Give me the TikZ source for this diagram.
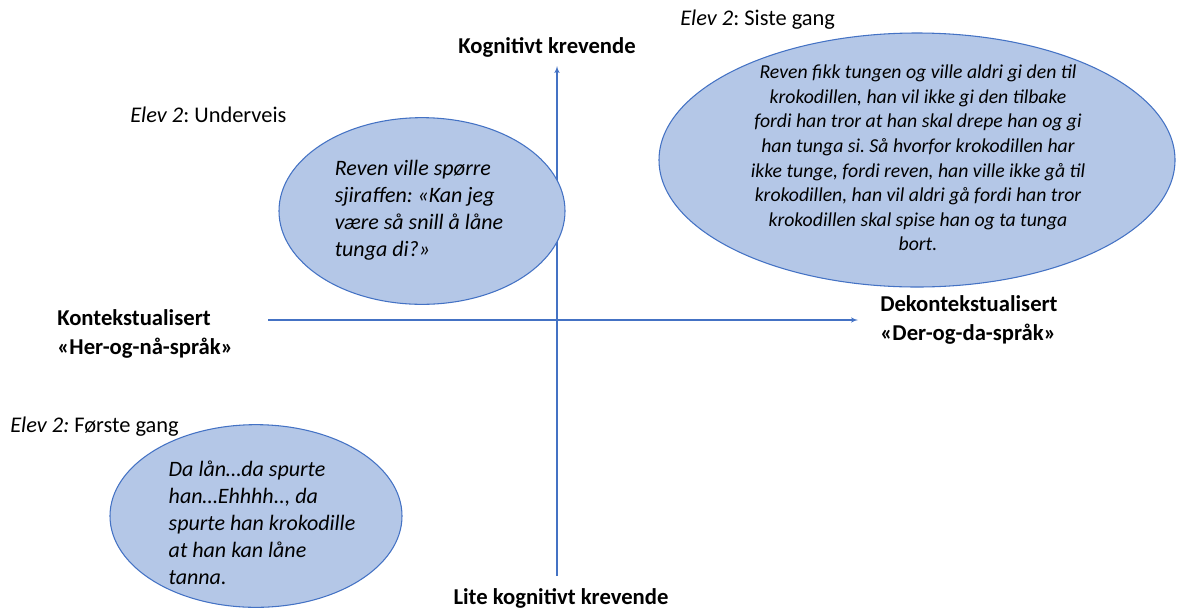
\documentclass[tikz,border=0pt]{standalone}
\usepackage{fontspec}
\setmainfont{Carlito}
\usepackage{tikz}
\usetikzlibrary{arrows,shapes.geometric,positioning}
\definecolor{aksefarge}{RGB}{68,114,196}
\definecolor{boblefyll}{RGB}{180,199,231}
\tikzstyle{axis} = [draw=aksefarge, line width=0.8pt, -latex']
\tikzstyle{axislabel} = [font=\fontsize{17}{21.5}\selectfont\bfseries, align=left, inner sep=0pt]
\tikzstyle{elev} = [font=\fontsize{16.8}{20}\selectfont, anchor=west, inner sep=0pt]
\tikzstyle{bubble} = [ellipse, draw=aksefarge, line width=0.8pt, fill=boblefyll, inner sep=0pt]
\tikzstyle{quote} = [font=\fontsize{16.5}{20.25}\selectfont\itshape, align=left, inner sep=0pt]
\tikzstyle{longquote} = [font=\fontsize{14.8}{18.4}\selectfont\itshape, align=center, inner sep=0pt]

\begin{document}
\frenchspacing
\begin{tikzpicture}[x=0.75pt, y=-0.75pt]
        \useasboundingbox (0,0) rectangle (1177,611);
        % Place axes
        \coordinate (left) at (268,320);
        \coordinate (right) at (858,320);
        \coordinate (bottom) at (557,576);
        \coordinate (top) at (557,66);
        \path [axis] (left) -- (right);
        \path [axis] (bottom) -- (top);
        % Axis labels
        \node [axislabel] (krevende) at (547,47) {Kognitivt krevende};
        \node [axislabel] (litekrevende) at (561,598) {Lite kognitivt krevende};
        \node [axislabel, anchor=west] (kontekst) at (57,334) {Kontekstualisert\\«Her-og-nå-språk»};
        \node [axislabel, anchor=west] (dekontekst) at (880,320) {Dekontekstualisert\\«Der-og-da-språk»};
        % Bubbles
        \node [bubble, minimum width=387pt, minimum height=190.5pt] (sisteboble) at (917,160) {};
        \node [bubble, minimum width=214.5pt, minimum height=140pt] (underveisboble) at (422,211) {};
        \node [bubble, minimum width=219pt, minimum height=137pt] (forsteboble) at (256,516) {};
        \node [longquote] (sistesvar) at (918,158) {Reven fikk tungen og ville aldri gi den til\\krokodillen, han vil ikke gi den tilbake\\fordi han tror at han skal drepe han og gi\\han tunga si. Så hvorfor krokodillen har\\ikke tunge, fordi reven, han ville ikke gå til\\krokodillen, han vil aldri gå fordi han tror\\krokodillen skal spise han og ta tunga\\bort.};
        \node [quote] (underveissvar) at (419,210) {Reven ville spørre\\sjiraffen: «Kan jeg\\være så snill å låne\\tunga di?»};
        \node [quote] (forstesvar) at (262,523) {Da lån…da spurte\\han…Ehhhh.., da\\spurte han krokodille\\at han kan låne\\tanna.};
        % Student labels
        \node [elev] (siste) at (680,20) {\textit{Elev 2}: Siste gang};
        \node [elev] (underveis) at (130,115) {\textit{Elev 2}: Underveis};
        \node [elev] (forste) at (10,427) {\textit{Elev 2:} Første gang};
    \end{tikzpicture}
\end{document}
